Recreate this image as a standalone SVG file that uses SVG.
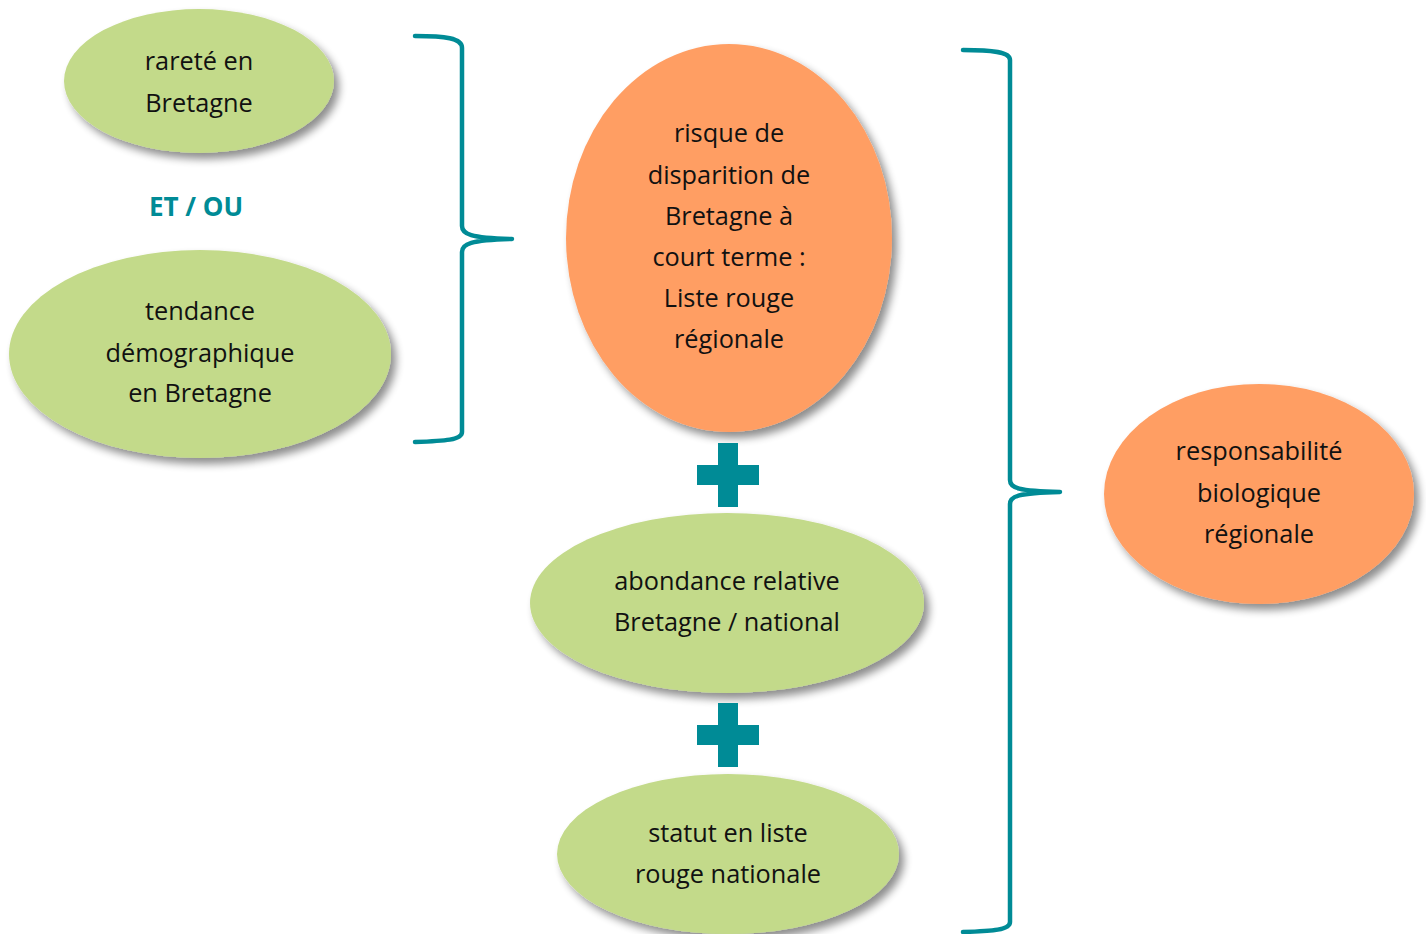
<svg xmlns="http://www.w3.org/2000/svg" width="1426" height="934" viewBox="0 0 1426 934">
<defs>
<filter id="sh" x="-20%" y="-20%" width="150%" height="150%">
<feGaussianBlur in="SourceAlpha" stdDeviation="4"/>
<feOffset dx="5" dy="6" result="b"/>
<feComponentTransfer><feFuncA type="linear" slope="0.45"/></feComponentTransfer>
<feMerge><feMergeNode/><feMergeNode in="SourceGraphic"/></feMerge>
</filter>
</defs>
<style>
.g{fill:#C3DA8A;filter:url(#sh)}
.o{fill:#FF9E64;filter:url(#sh)}
.t{font-family:"Open Sans","Noto Sans",sans-serif;font-size:25.3px;fill:#111;text-anchor:middle;dominant-baseline:central}
.b{fill:none;stroke:#008B96;stroke-width:4.5;stroke-linecap:round;stroke-linejoin:round}
.p{fill:#008B96}
.e{font-family:"Open Sans","Noto Sans",sans-serif;font-size:26px;font-weight:bold;fill:#008B96;text-anchor:middle;dominant-baseline:central}
</style>
<g id="rarete"><ellipse class="g" cx="199" cy="81" rx="135" ry="72"/>
<text class="t" x="199" y="60">rareté en</text><text class="t" x="199" y="102">Bretagne</text></g>
<g id="etou"><text class="e" x="196" y="206">ET / OU</text></g>
<g id="tendance"><ellipse class="g" cx="200" cy="354" rx="191" ry="104"/>
<text class="t" x="200" y="310">tendance</text><text class="t" x="200" y="352">démographique</text><text class="t" x="200" y="392">en Bretagne</text></g>
<g id="risque"><ellipse class="o" cx="729" cy="238" rx="163" ry="194"/>
<text class="t" x="729" y="132">risque de</text><text class="t" x="729" y="174">disparition de</text><text class="t" x="729" y="215">Bretagne à</text><text class="t" x="729" y="256">court terme :</text><text class="t" x="729" y="297">Liste rouge</text><text class="t" x="729" y="338">régionale</text></g>
<g id="abondance"><ellipse class="g" cx="727" cy="603" rx="197" ry="90"/>
<text class="t" x="727" y="580">abondance relative</text><text class="t" x="727" y="621">Bretagne / national</text></g>
<g id="statut"><ellipse class="g" cx="728" cy="854" rx="171" ry="80"/>
<text class="t" x="728" y="832">statut en liste</text><text class="t" x="728" y="873">rouge nationale</text></g>
<g id="responsabilite"><ellipse class="o" cx="1259" cy="494" rx="155" ry="110"/>
<text class="t" x="1259" y="450">responsabilité</text><text class="t" x="1259" y="492">biologique</text><text class="t" x="1259" y="533">régionale</text></g>
<g id="connectors">
<path class="b" d="M415 36 C445 36 462 38 462 48 L462 226 C462 234 470 238 512 239 C470 240 462 244 462 252 L462 432 C462 440 445 441 415 442"/>
<path class="b" d="M963 50 C993 50 1010 52 1010 60 L1010 480 C1010 488 1018 491 1060 492 C1018 493 1010 496 1010 504 L1010 922 C1010 930 993 931 963 932"/>
<path class="p" d="M718 443 H738 V465 H759 V485 H738 V507 H718 V485 H697 V465 H718 Z"/>
<path class="p" d="M718 703 H738 V725 H759 V745 H738 V767 H718 V745 H697 V725 H718 Z"/>
</g>
</svg>
